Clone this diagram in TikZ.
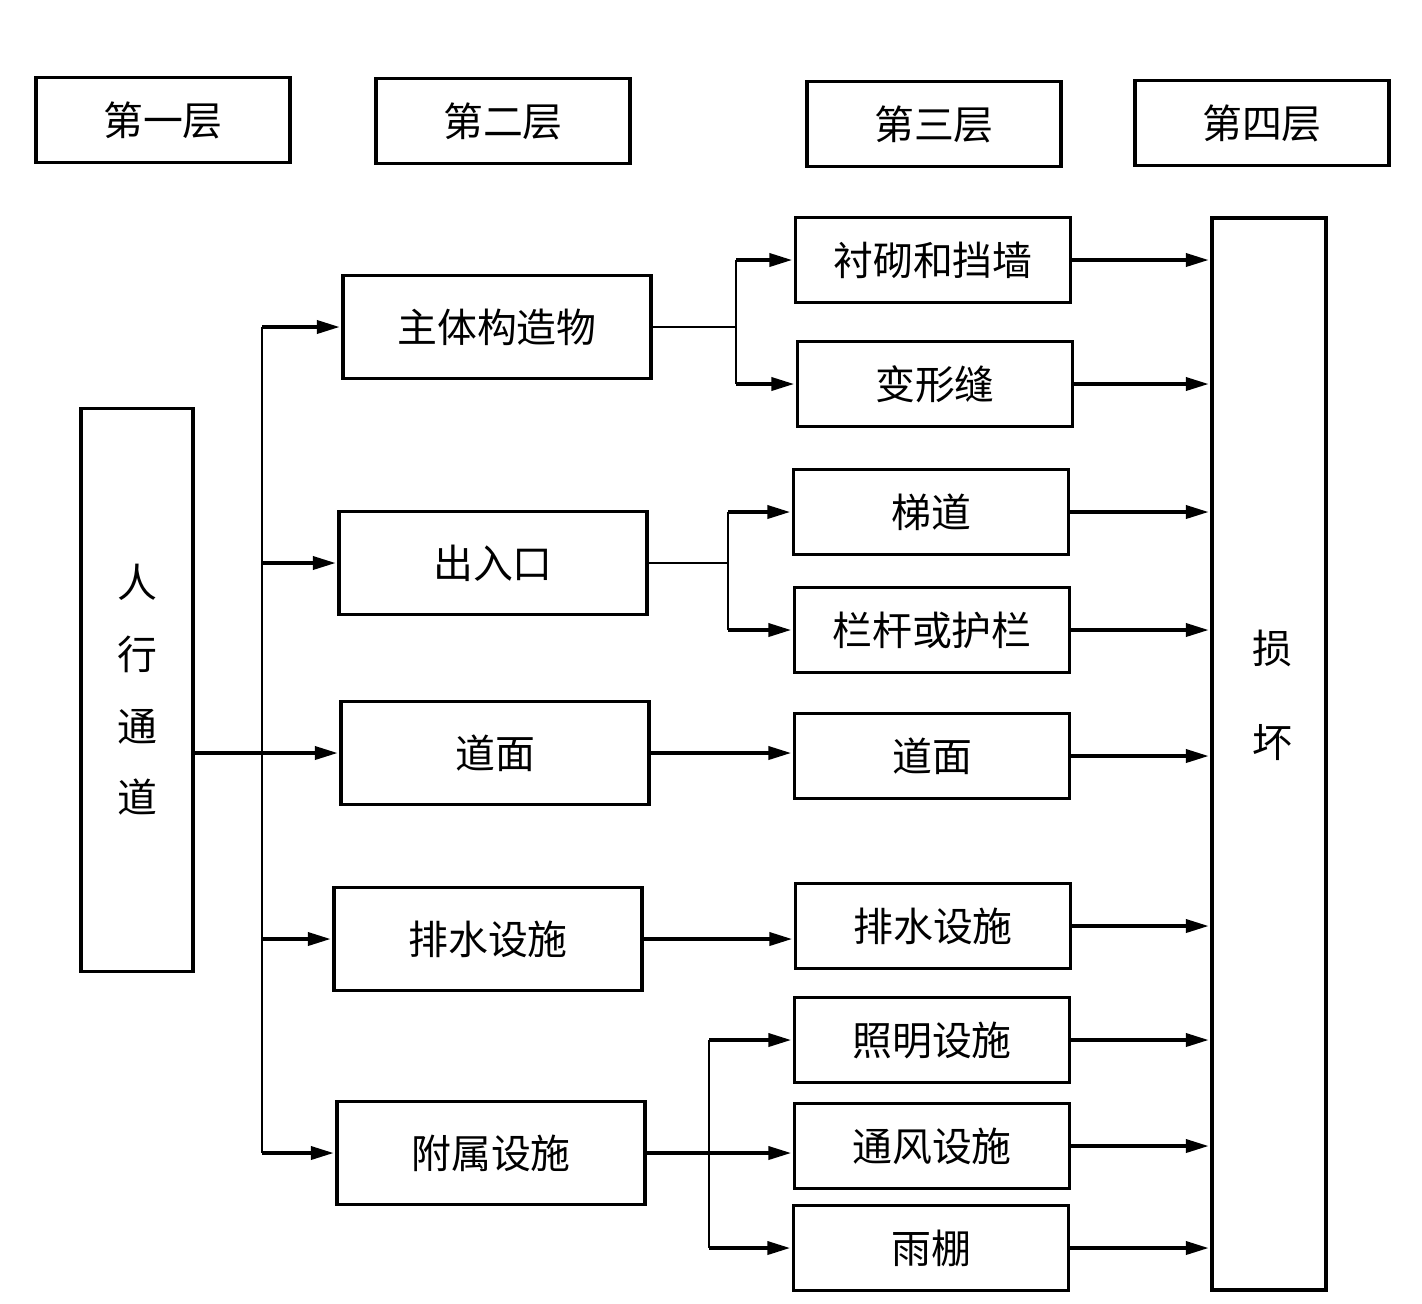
\documentclass[tikz,border=0pt]{standalone}
\usepackage{fontspec}
\setmainfont{Noto Sans CJK SC}
\usetikzlibrary{arrows.meta}
\tikzstyle{hd}=[draw,line width=1.9pt,minimum width=5.08cm,minimum height=1.7cm,inner sep=0pt]
\tikzstyle{lv2}=[draw,line width=1.9pt,minimum width=6.16cm,minimum height=2.06cm,inner sep=0pt]
\tikzstyle{lv3}=[draw,line width=1.9pt,minimum width=5.5cm,minimum height=1.7cm,inner sep=0pt]
\tikzstyle{col}=[draw,line width=1.9pt,inner sep=0pt]
\tikzstyle{arr}=[line width=1.9pt,-{Triangle[length=13pt,width=7.5pt]},shorten >=1pt]
\tikzstyle{bus}=[line width=1.3pt]

\begin{document}
\begin{tikzpicture}[x=0.02cm,y=-0.02cm,font=\fontsize{22.7}{27}\selectfont]
     \useasboundingbox (0,0) rectangle (1422,1303);
     \node [hd] (h1) at (163,120) {第一层};
     \node [hd] (h2) at (503,121) {第二层};
     \node [hd] (h3) at (934,124) {第三层};
     \node [hd] (h4) at (1262,123) {第四层};
     \node [col,minimum width=2.24cm,minimum height=11.26cm,align=center,
            font=\fontsize{22.7}{40.8}\selectfont] (rx) at (137,690) {人\\行\\通\\道};
     \node [lv2] (zt) at (497,327) {主体构造物};
     \node [lv2] (crk) at (493,563) {出入口};
     \node [lv2] (dm2) at (495,753) {道面};
     \node [lv2] (ps2) at (488,939) {排水设施};
     \node [lv2] (fs) at (491,1153) {附属设施};
     \node [lv3] (cq) at (933,260) {衬砌和挡墙};
     \node [lv3] (bxf) at (935,384) {变形缝};
     \node [lv3] (ty) at (931,512) {梯道};
     \node [lv3] (lg) at (932,630) {栏杆或护栏};
     \node [lv3] (dm3) at (932,756) {道面};
     \node [lv3] (ps3) at (933,926) {排水设施};
     \node [lv3] (zm) at (932,1040) {照明设施};
     \node [lv3] (tf) at (932,1146) {通风设施};
     \node [lv3] (yp) at (931,1248) {雨棚};
     \node [col,minimum width=2.28cm,minimum height=21.44cm] (sh) at (1269,754) {};
     \node [align=center,font=\fontsize{22.7}{53.3}\selectfont] (sht) at (1272,695) {损\\坏};
     \coordinate (b0) at (262,335);
     \coordinate (m1) at (736,319);
     \coordinate (m2) at (728,562);
     \coordinate (m3) at (709,1146);
     \draw[bus] (b0 |- zt) -- (b0 |- fs);
     \foreach \n in {zt,crk,ps2,fs} \draw[arr] (b0 |- \n) -- (\n);
     \draw[arr] (rx.east |- dm2) -- (dm2);
     \draw[bus] (zt) -- (zt -| m1);
     \draw[bus] (m1 |- cq) -- (m1 |- bxf);
     \foreach \n in {cq,bxf} \draw[arr] (m1 |- \n) -- (\n);
     \draw[bus] (crk) -- (crk -| m2);
     \draw[bus] (m2 |- ty) -- (m2 |- lg);
     \foreach \n in {ty,lg} \draw[arr] (m2 |- \n) -- (\n);
     \draw[arr] (dm2.east) -- (dm2.east -| dm3.west);
     \draw[arr] (ps2.east) -- (ps2.east -| ps3.west);
     \draw[arr] (fs.east) -- (fs.east -| tf.west);
     \draw[bus] (m3 |- zm) -- (m3 |- yp);
     \foreach \n in {zm,yp} \draw[arr] (m3 |- \n) -- (\n);
     \foreach \n in {cq,bxf,ty,lg,dm3,ps3,zm,tf,yp} \draw[arr] (\n.east) -- (\n.east -| sh.west);
\end{tikzpicture}
\end{document}
